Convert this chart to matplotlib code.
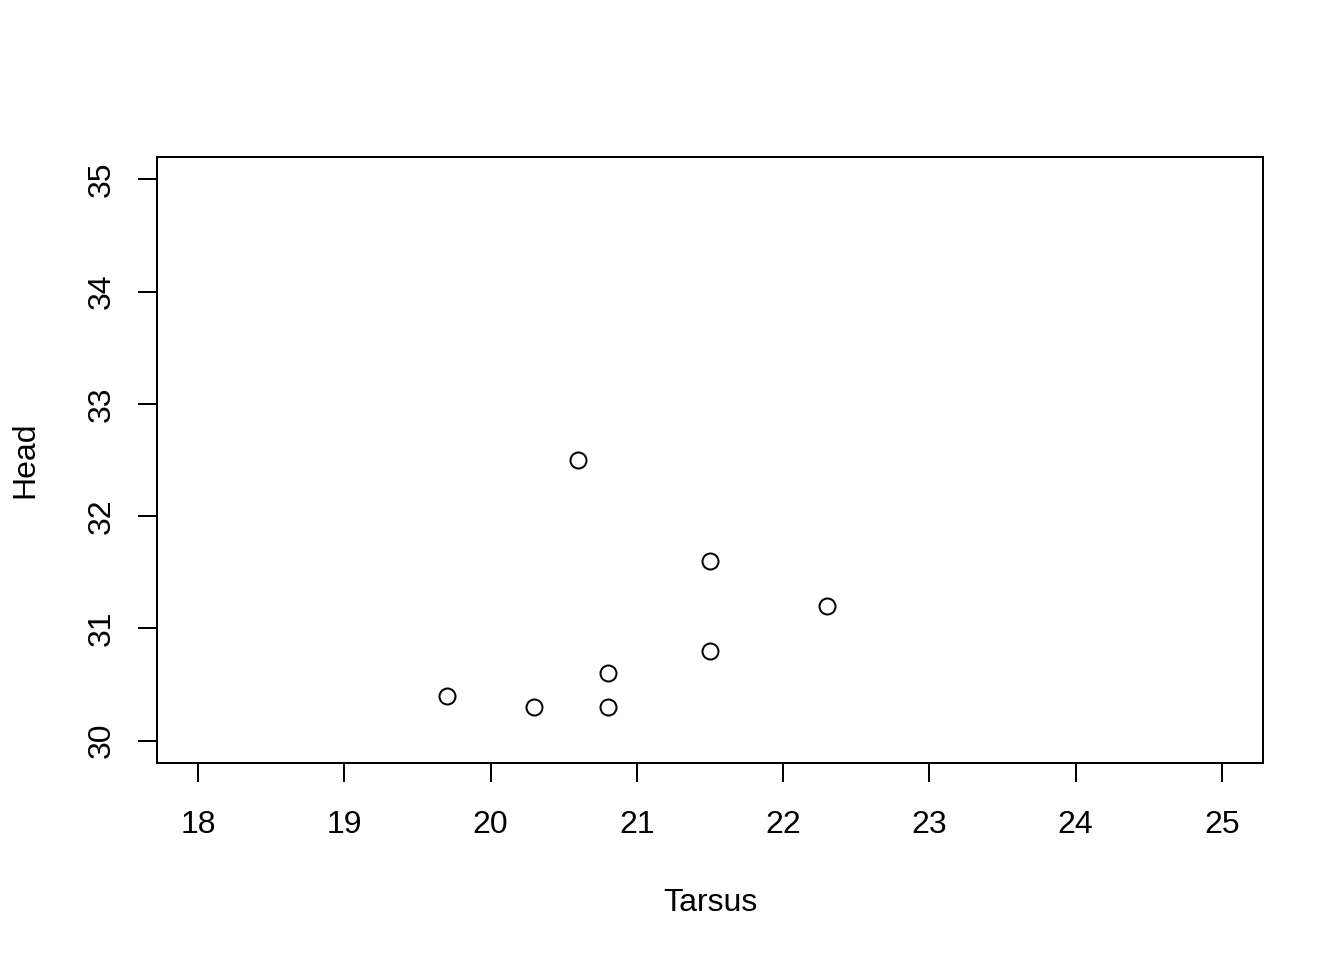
import matplotlib
matplotlib.use("Agg")
import matplotlib.pyplot as plt

plt.rcParams['font.family'] = ['Liberation Sans', 'DejaVu Sans']

# sparrow measurements
tarsus = [19.7, 20.3, 20.8, 20.8, 20.6, 21.5, 21.5, 22.3]
head = [30.4, 30.3, 30.3, 30.6, 32.5, 31.6, 30.8, 31.2]
xticks = [18, 19, 20, 21, 22, 23, 24, 25]
yticks = [30, 31, 32, 33, 34, 35]

fig = plt.figure(figsize=(7, 5), dpi=192)
ax = fig.add_axes([157/1344, 197/960, 1106/1344, 606/960])

ax.plot(tarsus, head, linestyle='none', marker='o', markersize=6.0,
        markerfacecolor='none', markeredgecolor='black', markeredgewidth=0.75)

# R style 4% padding
ax.set_xlim(18 - 0.28, 25 + 0.28)
ax.set_ylim(30 - 0.2, 35 + 0.2)
ax.set_xticks(xticks)
ax.set_yticks(yticks)
ax.set_yticklabels([str(t) for t in yticks], rotation=90, va='center')
ax.tick_params(axis='both', direction='out', length=7.2, width=0.75,
               labelsize=12)
ax.tick_params(axis='x', pad=10.4)
ax.tick_params(axis='y', pad=7.8)
for s in ax.spines.values():
    s.set_linewidth(0.75)

fig.text(710/1344, 1 - 903/960, 'Tarsus', ha='center', va='center', fontsize=12)
fig.text(25/1344, 1 - 460/960, 'Head', ha='center', va='center', fontsize=12,
         rotation=90)

fig.savefig('out.png', dpi=192)
